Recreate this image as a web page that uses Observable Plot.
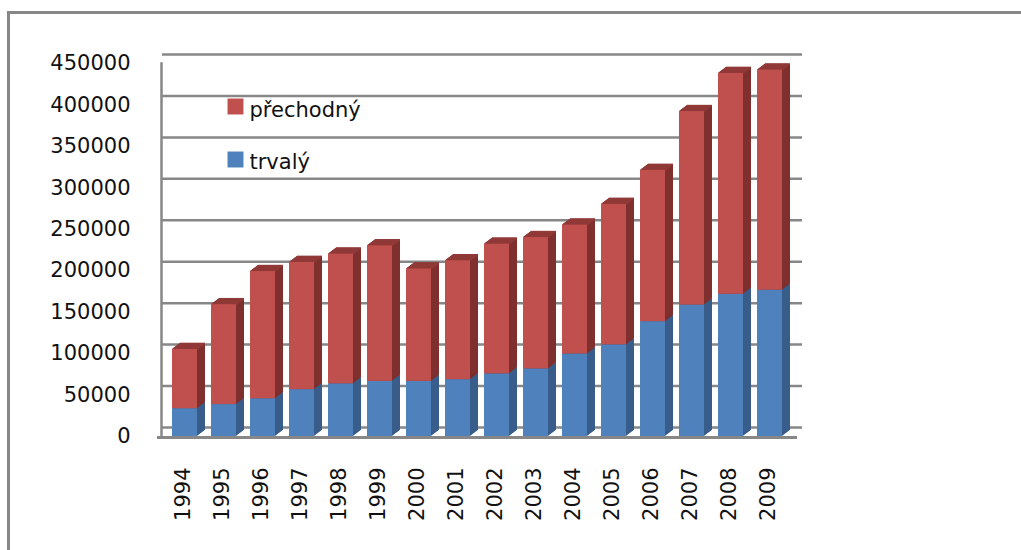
<!DOCTYPE html>
<html>
<head>
<meta charset="utf-8">
<script src="https://cdn.jsdelivr.net/npm/d3@7"></script>
<script src="https://cdn.jsdelivr.net/npm/@observablehq/plot@0.6"></script>
<style>
  html, body { margin: 0; padding: 0; background: #fff; }
  #wrap { position: relative; width: 1021px; height: 550px; overflow: hidden; }
  #border { position: absolute; left: 7px; top: 11px; right: -5px; bottom: -5px;
            border-top: 3px solid #878787; border-left: 3px solid #878787; pointer-events: none; }
  #chart { position: absolute; left: 0; top: 0; }
</style>
</head>
<body>
<div id="wrap"><div id="chart"></div><div id="border"></div></div>
<script>
// ---- data ----
const years = ["1994","1995","1996","1997","1998","1999","2000","2001","2002","2003","2004","2005","2006","2007","2008","2009"];
const trvaly = [33500, 38500, 45500, 56500, 63500, 66500, 66500, 68500, 75500, 81500, 99500, 110500, 138500, 158500, 171500, 176500];
const prechodny = [71500, 120500, 153500, 153500, 156500, 163500, 135500, 143500, 156500, 158500, 155500, 169500, 182500, 233500, 266500, 265500];
const seriesNames = ["přechodný", "trvalý"];
const yTicks = [0, 50000, 100000, 150000, 200000, 250000, 300000, 350000, 400000, 450000];

// ---- styles ----
const blue = "#4F81BD", blueSide = "#385D8A";
const red = "#C0504D", redSide = "#7F302E", redTop = "#903A38";
const grid = "#878787";

const rows = years.map((y, i) => ({year: y, t: trvaly[i], total: trvaly[i] + prechodny[i]}));

const depthSteps = d3.range(0.5, 8.01, 0.5);
const marks = [];

// back wall gridlines
marks.push(Plot.ruleY(yTicks, {stroke: grid, strokeWidth: 2.5, dx: 5, dy: -9}));
// left wall
marks.push(Plot.frame({anchor: "left", stroke: grid, strokeWidth: 2.5, dx: 4}));
// floor
marks.push(Plot.ruleY([0], {stroke: grid, strokeWidth: 3, dy: 1}));

// 3D depth: blue side
for (const k of depthSteps) {
  marks.push(Plot.rectY(rows, {x: "year", y1: 0, y2: "t", fill: blueSide, dx: k, dy: -k * 0.75}));
}
// red side
for (const k of depthSteps) {
  marks.push(Plot.rectY(rows, {x: "year", y1: "t", y2: "total", fill: redSide, dx: k, dy: -k * 0.75}));
}
// red top face
for (const k of depthSteps) {
  marks.push(Plot.tickY(rows, {x: "year", y: "total", stroke: redTop, strokeWidth: 1.5, dx: k, dy: -k * 0.75}));
}
// front faces
marks.push(Plot.rectY(rows, {x: "year", y1: 0, y2: "t", fill: blue}));
marks.push(Plot.rectY(rows, {x: "year", y1: "t", y2: "total", fill: red}));

// rotated year labels
marks.push(Plot.text(years, {x: d => d, frameAnchor: "bottom", rotate: -90, textAnchor: "end", dx: 5, dy: 31, fill: "#111", fontSize: 21}));

// legend
marks.push(Plot.dot([seriesNames[0]], {frameAnchor: "top-left", dx: 78, dy: 43, symbol: "square", r: 9, fill: red}));
marks.push(Plot.text([seriesNames[0]], {frameAnchor: "top-left", dx: 92, dy: 39, text: d => d, textAnchor: "start", fill: "#111", fontSize: 21}));
marks.push(Plot.dot([seriesNames[1]], {frameAnchor: "top-left", dx: 78, dy: 96, symbol: "square", r: 9, fill: blue}));
marks.push(Plot.text([seriesNames[1]], {frameAnchor: "top-left", dx: 92, dy: 91, text: d => d, textAnchor: "start", fill: "#111", fontSize: 21}));

const chart = Plot.plot({
  width: 1021,
  height: 550,
  marginLeft: 157,
  marginRight: 224,
  marginTop: 63,
  marginBottom: 114,
  style: {fontFamily: "DejaVu Sans", fontSize: "21px", color: "#111", background: "transparent"},
  x: {type: "band", domain: years, padding: 0.36, axis: null},
  y: {domain: [0, 450000], ticks: yTicks, tickSize: 0, tickPadding: 27, tickFormat: d => String(d), label: null},
  marks
});
document.getElementById("chart").appendChild(chart);
</script>
</body>
</html>
